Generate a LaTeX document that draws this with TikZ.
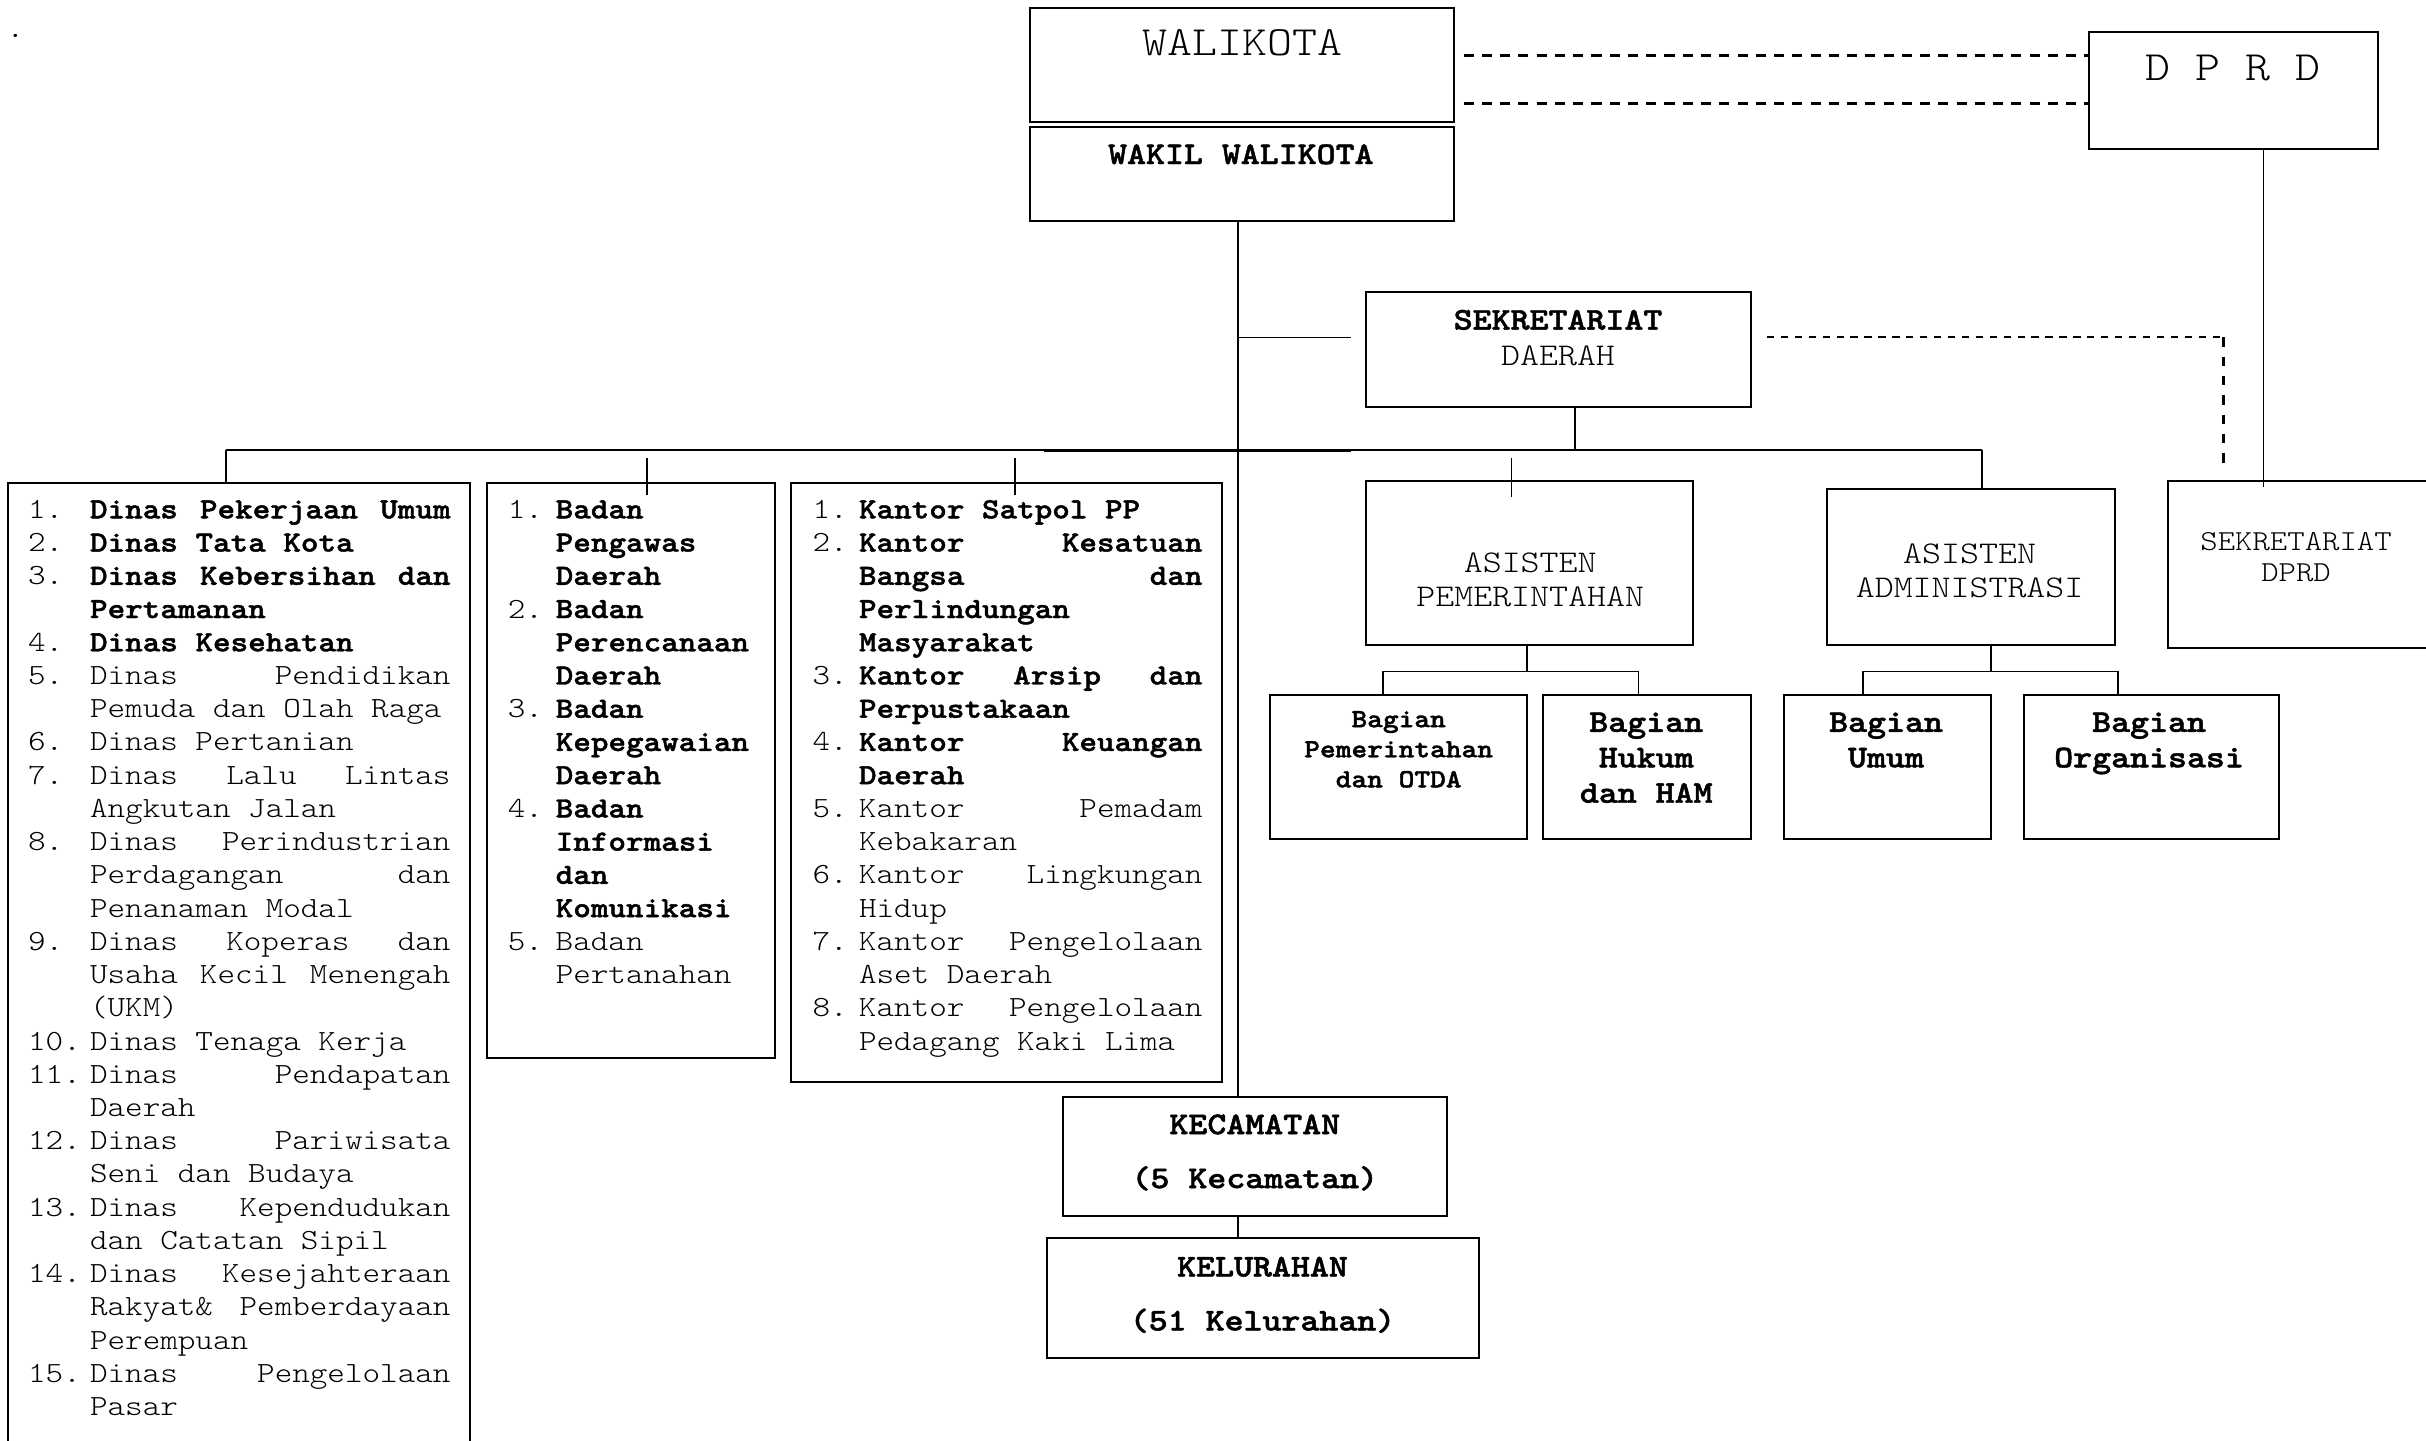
\documentclass[tikz,border=0pt]{standalone}
\usepackage{fontspec}
% light typewriter face, widened to a 0.6em advance, with a heavier bold
\setmainfont{lmmonolt10-regular.otf}[BoldFont=lmmonolt10-bold.otf,
  FakeStretch=1.143, BoldFeatures={FakeBold=1.5}]
\newlength\nw
\newlength\tw
% one list line: number column, then text column
\newcommand\li[2]{\makebox[\nw][l]{\mdseries #1}\makebox[\tw][l]{#2}}
% justified word gap
\newcommand\jsp{\ \hfill}
% centred stack of lines whose baseline is the first line
\newcommand\stack[2]{\parbox[t]{#1}{\centering #2}}
\begin{document}
\begin{tikzpicture}[x=1bp,y=-1bp,
  box/.style={draw, line width=1.3bp, rectangle, inner sep=0},
  link/.style={line width=1bp},
  dashtop/.style={line width=1.6bp, dash pattern=on 6.5bp off 5.3bp},
  dashsek/.style={line width=1.5bp, dash pattern=on 4.7bp off 4.3bp},
  dashdown/.style={line width=1.5bp, dash pattern=on 6bp off 6.5bp},
  lbl/.style={inner sep=0, anchor=base},
  lst/.style={inner sep=0, anchor=base west, font=\fontsize{19}{21.56}\selectfont},
]
\useasboundingbox (0,0) rectangle (1568,931);
\clip (0,0) rectangle (1568,931);

% ---------- boxes ----------
\node[box, minimum width=274bp, minimum height=74bp] (walikota) at (803,42) {};
\node[box, minimum width=274bp, minimum height=61bp] (wakil) at (803,112.5) {};
\node[box, minimum width=187bp, minimum height=75bp] (dprd) at (1443.5,58.5) {};
\node[box, minimum width=249bp, minimum height=74bp] (sekda) at (1007.5,226) {};
\node[box, minimum width=211bp, minimum height=106bp] (aspem) at (988.5,364) {};
\node[box, minimum width=186bp, minimum height=101bp] (asadm) at (1274,366.5) {};
\node[box, minimum width=179bp, minimum height=108bp] (setdprd) at (1490.5,365) {};
\node[box, minimum width=299bp, minimum height=633bp] (dinas) at (154.5,628.5) {};
\node[box, minimum width=186bp, minimum height=372bp] (badan) at (408,498) {};
\node[box, minimum width=279bp, minimum height=387bp] (kantor) at (650.5,505.5) {};
\node[box, minimum width=248bp, minimum height=77bp] (kec) at (811,747.5) {};
\node[box, minimum width=279bp, minimum height=78bp] (kel) at (816.5,839) {};
\node[box, minimum width=166bp, minimum height=93bp] (bpem) at (904,495.5) {};
\node[box, minimum width=135bp, minimum height=93bp] (bhuk) at (1064.5,495.5) {};
\node[box, minimum width=134bp, minimum height=93bp] (bum) at (1220,495.5) {};
\node[box, minimum width=165bp, minimum height=93bp] (borg) at (1390.5,495.5) {};

% ---------- box titles ----------
\node[lbl, font=\fontsize{19}{21}\selectfont] (dot) at (10,24) {.};
\node[lbl, font=\fontsize{27}{30}\selectfont] (walikota-t) at (803,36) {WALIKOTA};
\node[lbl, font=\fontsize{27}{30}\selectfont] (dprd-t) at (1443,52) {D P R D};
\node[lbl, font=\fontsize{20.5}{23}\selectfont\bfseries] (wakil-t) at (802,106) {WAKIL WALIKOTA};
\node[lbl, font=\fontsize{20.5}{23}\selectfont] (sekda-t) at (1007,213)
  {\stack{240bp}{\textbf{SEKRETARIAT}\\DAERAH}};
\node[lbl, font=\fontsize{20.5}{22}\selectfont] (aspem-t) at (989,370)
  {\stack{200bp}{ASISTEN\\PEMERINTAHAN}};
\node[lbl, font=\fontsize{20.5}{22}\selectfont] (asadm-t) at (1273,364)
  {\stack{180bp}{ASISTEN\\ADMINISTRASI}};
\node[lbl, font=\fontsize{18.8}{20}\selectfont] (setdprd-t) at (1484,356)
  {\stack{160bp}{SEKRETARIAT\\DPRD}};
\node[lbl, font=\fontsize{17}{19.5}\selectfont\bfseries] (bpem-t) at (904,470)
  {\stack{160bp}{Bagian\\Pemerintahan\\dan OTDA}};
\node[lbl, font=\fontsize{20.5}{23}\selectfont\bfseries] (bhuk-t) at (1064,473)
  {\stack{130bp}{Bagian\\Hukum\\dan HAM}};
\node[lbl, font=\fontsize{20.5}{23}\selectfont\bfseries] (bum-t) at (1219,473)
  {\stack{130bp}{Bagian\\Umum}};
\node[lbl, font=\fontsize{20.5}{23}\selectfont\bfseries] (borg-t) at (1389,473)
  {\stack{160bp}{Bagian\\Organisasi}};
\node[lbl, font=\fontsize{20.5}{35}\selectfont\bfseries] (kec-t) at (811,733)
  {\stack{240bp}{KECAMATAN\\(5 Kecamatan)}};
\node[lbl, font=\fontsize{20.5}{35}\selectfont\bfseries] (kel-t) at (816,825)
  {\stack{270bp}{KELURAHAN\\(51 Kelurahan)}};

% ---------- lists ----------
\node[lst] (dinas-t) at (18,335) {\setlength\nw{40bp}\setlength\tw{233bp}%
\parbox[t]{273bp}{%
\li{1.}{\textbf{Dinas\jsp Pekerjaan\jsp Umum}}\\
\li{2.}{\textbf{Dinas Tata Kota}}\\
\li{3.}{\textbf{Dinas\jsp Kebersihan\jsp dan}}\\
\li{}{\textbf{Pertamanan}}\\
\li{4.}{\textbf{Dinas Kesehatan}}\\
\li{5.}{Dinas\jsp Pendidikan}\\
\li{}{Pemuda dan Olah Raga}\\
\li{6.}{Dinas Pertanian}\\
\li{7.}{Dinas\jsp Lalu\jsp Lintas}\\
\li{}{Angkutan Jalan}\\
\li{8.}{Dinas\jsp Perindustrian}\\
\li{}{Perdagangan\jsp dan}\\
\li{}{Penanaman Modal}\\
\li{9.}{Dinas\jsp Koperas\jsp dan}\\
\li{}{Usaha\jsp Kecil\jsp Menengah}\\
\li{}{(UKM)}\\
\li{10.}{Dinas Tenaga Kerja}\\
\li{11.}{Dinas\jsp Pendapatan}\\
\li{}{Daerah}\\
\li{12.}{Dinas\jsp Pariwisata}\\
\li{}{Seni dan Budaya}\\
\li{13.}{Dinas\jsp Kependudukan}\\
\li{}{dan Catatan Sipil}\\
\li{14.}{Dinas\jsp Kesejahteraan}\\
\li{}{Rakyat\&\jsp Pemberdayaan}\\
\li{}{Perempuan}\\
\li{15.}{Dinas\jsp Pengelolaan}\\
\li{}{Pasar}}};

\node[lst] (badan-t) at (328,335) {\setlength\nw{31bp}\setlength\tw{140bp}%
\parbox[t]{171bp}{%
\li{1.}{\textbf{Badan}}\\
\li{}{\textbf{Pengawas}}\\
\li{}{\textbf{Daerah}}\\
\li{2.}{\textbf{Badan}}\\
\li{}{\textbf{Perencanaan}}\\
\li{}{\textbf{Daerah}}\\
\li{3.}{\textbf{Badan}}\\
\li{}{\textbf{Kepegawaian}}\\
\li{}{\textbf{Daerah}}\\
\li{4.}{\textbf{Badan}}\\
\li{}{\textbf{Informasi}}\\
\li{}{\textbf{dan}}\\
\li{}{\textbf{Komunikasi}}\\
\li{5.}{Badan}\\
\li{}{Pertanahan}}};

\node[lst] (kantor-t) at (525,335) {\setlength\nw{30bp}\setlength\tw{222bp}%
\parbox[t]{252bp}{%
\li{1.}{\textbf{Kantor Satpol PP}}\\
\li{2.}{\textbf{Kantor\jsp Kesatuan}}\\
\li{}{\textbf{Bangsa\jsp dan}}\\
\li{}{\textbf{Perlindungan}}\\
\li{}{\textbf{Masyarakat}}\\
\li{3.}{\textbf{Kantor\jsp Arsip\jsp dan}}\\
\li{}{\textbf{Perpustakaan}}\\
\li{4.}{\textbf{Kantor\jsp Keuangan}}\\
\li{}{\textbf{Daerah}}\\
\li{5.}{Kantor\jsp Pemadam}\\
\li{}{Kebakaran}\\
\li{6.}{Kantor\jsp Lingkungan}\\
\li{}{Hidup}\\
\li{7.}{Kantor\jsp Pengelolaan}\\
\li{}{Aset Daerah}\\
\li{8.}{Kantor\jsp Pengelolaan}\\
\li{}{Pedagang Kaki Lima}}};

% ---------- connectors ----------
\coordinate (trunk) at (800,0);
\coordinate (bus) at (0,291);
\coordinate (busL) at (146,291);
\coordinate (busR) at (1281,291);
\coordinate (stub) at (873,218);
\coordinate (wd1) at (946,36);
\coordinate (wd2) at (946,67);
\coordinate (sd0) at (1142,218);
\coordinate (sd1) at (1437,218);
\coordinate (sd2) at (1437,305);

% mayor to district chain
\draw[link] (wakil.south -| trunk) -- (kec.north -| trunk);
\draw[link] (kec.south -| trunk) -- (kel.north -| trunk);
\draw[link] (trunk |- stub) -- (stub);

% dashed coordination with the council
\draw[dashtop] (wd1) -- (dprd.west |- wd1);
\draw[dashtop] (wd2) -- (dprd.west |- wd2);
\draw[dashsek] (sd0) -- (sd1);
\draw[dashdown] (sd1) -- (sd2);
\draw[link] (1463,0 |- dprd.south) -- (1463,315);

% secretariat bus
\draw[link] (sekda.south -| 1018,0) -- (1018,0 |- bus);
\draw[link] (busL) -- (busR);
\draw[line width=1.8bp] (675,291) -- (873,291);
\draw[link] (busL) -- (busL |- dinas.north);
\draw[link] (418,296) -- (418,320);
\draw[link] (656,296) -- (656,320);
\draw[link] (977,296) -- (977,321);
\draw[link] (busR) -- (busR |- asadm.north);

% assistant branches
\draw[link] (987,0 |- aspem.south) -- (987,434);
\draw[link] (894,434) -- (1059,434);
\draw[link] (894,434) -- (894,0 |- bpem.north);
\draw[link] (1059,434) -- (1059,0 |- bhuk.north);
\draw[link] (1287,0 |- asadm.south) -- (1287,434);
\draw[link] (1204,434) -- (1369,434);
\draw[link] (1204,434) -- (1204,0 |- bum.north);
\draw[link] (1369,434) -- (1369,0 |- borg.north);
\end{tikzpicture}
\end{document}
